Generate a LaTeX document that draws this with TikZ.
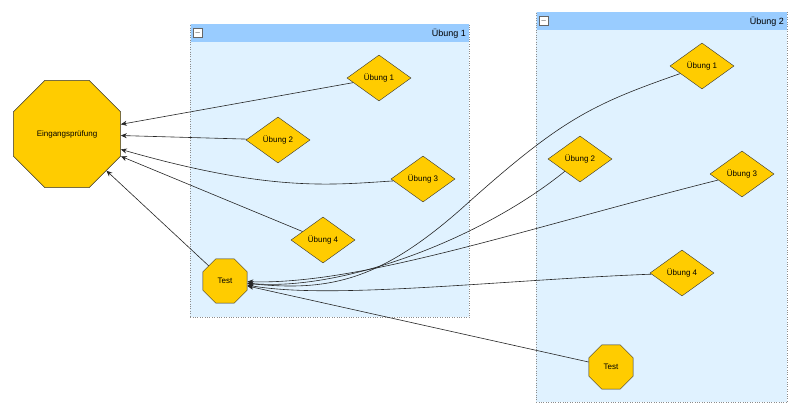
\documentclass[tikz,border=0pt]{standalone}
\usepackage{fontspec}
\setmainfont{Liberation Sans}
\usetikzlibrary{shapes.geometric,arrows.meta}
\definecolor{hdr}{HTML}{99CCFF}
\definecolor{body}{HTML}{E0F2FF}
\definecolor{gold}{HTML}{FFCC00}
\begin{document}
\begin{tikzpicture}[x=1pt,y=-1pt,
  dia/.style={diamond,draw=black!80,fill=gold,aspect=1.4,minimum width=64pt,minimum height=46pt,inner sep=0pt,font=\fontsize{8}{9}\selectfont},
  oct/.style={regular polygon,regular polygon sides=8,draw=black!80,fill=gold,minimum size=#1,inner sep=0pt,font=\fontsize{8}{9}\selectfont},
  ed/.style={draw=black!85,line width=0.6pt,-{Stealth[length=6pt,width=5pt]}},
  grp/.style={draw=black!45,dotted,fill=body}]
\useasboundingbox (0,0) rectangle (800,417);
\fill[white] (0,0) rectangle (800,417);
% group 1
\node[grp,minimum width=279pt,minimum height=293pt,anchor=north west,inner sep=0pt] (g1) at (190,24) {};
\fill[hdr] (190.5,24.5) rectangle (468.5,42);
\node[anchor=east,font=\fontsize{9}{10}\selectfont,inner sep=0pt] (g1t) at (466,34) {Übung 1};
\node[draw=black!60,fill=white,minimum width=9pt,minimum height=9pt,inner sep=0pt,anchor=north west,font=\fontsize{7}{7}\selectfont] (g1b) at (193,28) {$-$};
% group 2
\node[grp,minimum width=251pt,minimum height=390pt,anchor=north west,inner sep=0pt] (g2) at (536,12) {};
\fill[hdr] (536.5,12.5) rectangle (786.5,30);
\node[anchor=east,font=\fontsize{9}{10}\selectfont,inner sep=0pt] (g2t) at (784,22) {Übung 2};
\node[draw=black!60,fill=white,minimum width=9pt,minimum height=9pt,inner sep=0pt,anchor=north west,font=\fontsize{7}{7}\selectfont] (g2b) at (539,16) {$-$};
% nodes
\node[oct=116pt] (E) at (67,134) {Eingangsprüfung};
\node[dia] (a1) at (379,78) {Übung 1};
\node[dia] (a2) at (278,140) {Übung 2};
\node[dia] (a3) at (423,179) {Übung 3};
\node[dia] (a4) at (323,240) {Übung 4};
\node[oct=48pt] (t1) at (225,281) {Test};
\node[dia] (b1) at (702,66) {Übung 1};
\node[dia] (b2) at (580,159) {Übung 2};
\node[dia] (b3) at (742,174) {Übung 3};
\node[dia] (b4) at (682,273) {Übung 4};
\node[oct=48pt] (t2) at (611,367) {Test};
% edges
\draw[ed] (a1) -- (E);
\draw[ed] (a2) -- (E);
\draw[ed] (a3) .. controls (330,185) and (270,192) .. (E);
\draw[ed] (a4) -- (E);
\draw[ed] (t1) -- (E);
\draw[ed] (b1) .. controls (590,105) and (560,120) .. (460,210) .. controls (380,280) and (330,292) .. (t1);
\draw[ed] (b2) .. controls (480,240) and (340,292) .. (t1);
\draw[ed] (b3) .. controls (520,230) and (360,285) .. (t1);
\draw[ed] (b4) .. controls (500,280) and (330,300) .. (t1);
\draw[ed] (t2) -- (t1);
\end{tikzpicture}
\end{document}
